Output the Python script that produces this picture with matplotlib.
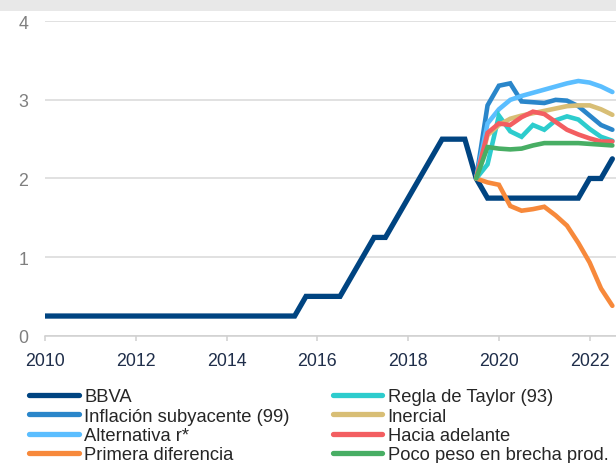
import numpy as np
import matplotlib
matplotlib.use("Agg")
import matplotlib.pyplot as plt
from matplotlib.patches import Rectangle

plt.rcParams["font.family"] = ["Liberation Sans", "DejaVu Sans"]

# Quarterly dates
years_hist = 2010.0 + 0.25 * np.arange(51)      # 2010.0 .. 2022.5
years_fc = 2019.5 + 0.25 * np.arange(13)        # 2019.5 .. 2022.5

bbva = ([0.25] * 23
        + [0.5, 0.5, 0.5, 0.5]
        + [0.75, 1.0, 1.25, 1.25]
        + [1.5, 1.75, 2.0, 2.25, 2.5, 2.5, 2.5]
        + [2.0, 1.75]
        + [1.75] * 8
        + [2.0, 2.0, 2.25])

inflacion_sub = [2.0, 2.93, 3.18, 3.21, 2.98, 2.97, 2.96, 3.0, 2.99, 2.92, 2.80, 2.68, 2.62]
alternativa_r = [2.0, 2.70, 2.88, 3.0, 3.05, 3.09, 3.13, 3.17, 3.21, 3.24, 3.22, 3.17, 3.10]
primera_dif = [2.0, 1.95, 1.92, 1.65, 1.59, 1.61, 1.64, 1.53, 1.40, 1.18, 0.93, 0.60, 0.38]
taylor_93 = [2.0, 2.18, 2.80, 2.60, 2.53, 2.68, 2.62, 2.74, 2.79, 2.75, 2.63, 2.53, 2.48]
inercial = [2.0, 2.55, 2.68, 2.76, 2.80, 2.83, 2.86, 2.89, 2.92, 2.93, 2.93, 2.88, 2.81]
hacia_adelante = [2.0, 2.58, 2.70, 2.68, 2.78, 2.85, 2.82, 2.72, 2.62, 2.56, 2.51, 2.47, 2.47]
poco_peso = [2.0, 2.40, 2.38, 2.37, 2.38, 2.42, 2.45, 2.45, 2.45, 2.45, 2.44, 2.43, 2.42]

series = [
    ("BBVA", years_hist, bbva, "#004481", 3.8),
    ("Inflación subyacente (99)", years_fc, inflacion_sub, "#2A86CA", 3.3),
    ("Alternativa r*", years_fc, alternativa_r, "#5BBEFF", 3.3),
    ("Primera diferencia", years_fc, primera_dif, "#F7893B", 3.3),
    ("Regla de Taylor (93)", years_fc, taylor_93, "#2DCCCD", 3.3),
    ("Inercial", years_fc, inercial, "#D8BE75", 3.3),
    ("Hacia adelante", years_fc, hacia_adelante, "#F35E61", 3.3),
    ("Poco peso en brecha prod.", years_fc, poco_peso, "#48AE64", 3.3),
]

fig = plt.figure(figsize=(6.16, 4.64), dpi=100)
fig.patches.append(Rectangle((0, 1 - 12 / 464), 1, 12 / 464, transform=fig.transFigure,
                             facecolor="#E8E8E8", edgecolor="none", zorder=0))
ax = fig.add_axes([45 / 616, 0.2744, 1 - 45 / 616, 0.952 - 0.2744])

for label, x, y, color, lw in series:
    ax.plot(x, y, color=color, lw=lw, label=label, solid_capstyle="round",
            solid_joinstyle="miter")

ax.set_xlim(2010, 2022.58)
ax.set_ylim(0, 4)
ax.set_yticks([0, 1, 2, 3, 4])
ax.set_xticks(range(2010, 2023, 2))

ax.grid(axis="y", color="#D9D9D9", lw=1.1)
ax.set_axisbelow(True)
for s in ["top", "right", "left"]:
    ax.spines[s].set_visible(False)
ax.spines["bottom"].set_color("#D0D0D0")
ax.spines["bottom"].set_linewidth(1.1)

ax.tick_params(axis="y", length=0, pad=12, labelsize=12.8, labelcolor="#7F7F7F")
ax.tick_params(axis="x", length=3.5, width=1.1, color="#D0D0D0", pad=8,
               labelsize=12.8, labelcolor="#1F2E4A")

leg = ax.legend(ncol=2, loc="upper left", bbox_to_anchor=(29 / 616, 0.161),
                bbox_transform=fig.transFigure, frameon=False, fontsize=13.2,
                borderpad=0, borderaxespad=0, handlelength=2.7, handletextpad=0.3,
                labelspacing=0.13, columnspacing=2.35)
for h in leg.get_lines():
    h.set_linewidth(3.8)
for t in leg.get_texts():
    t.set_color("#262626")

fig.savefig("out.png", dpi=100)
